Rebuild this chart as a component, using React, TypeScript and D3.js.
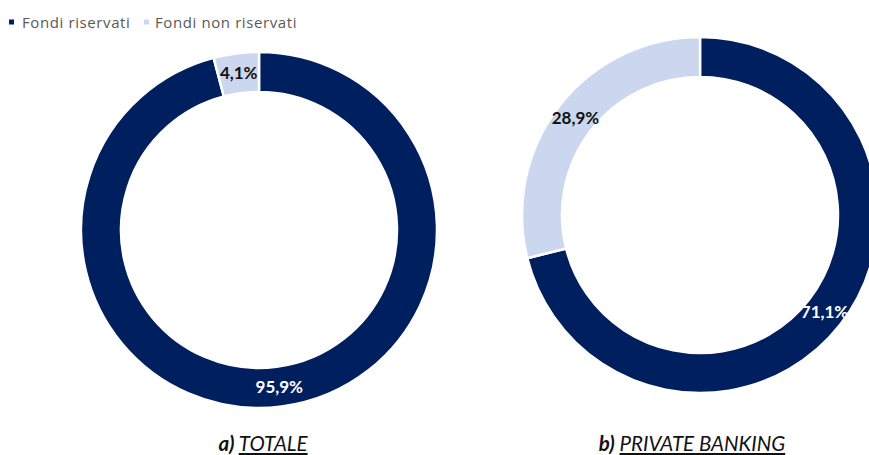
import React from "react";
import * as d3 from "d3";

const categories = ["Fondi riservati", "Fondi non riservati"];
const totaleValues = [95.9, 4.1];
const privateValues = [71.1, 28.9];
const valueLabels = [["95,9%", "4,1%"], ["71,1%", "28,9%"]];
const chartTitles = [["a)", "TOTALE"], ["b)", "PRIVATE BANKING"]];

const colors = ["#001F5F", "#CAD7EE"];
const labelColors = ["#FFFFFF", "#111111"];
const W = 869, H = 455;

const FONT = "Lato, 'Open Sans', sans-serif";

function Donut({ values, labels, cx, cy, clipId }: { values: number[]; labels: string[]; cx: number; cy: number; clipId?: string }) {
  const pie = d3.pie<number>().sort(null).value((d) => d);
  const arcs = pie(values);
  const arc = d3.arc<d3.PieArcDatum<number>>().innerRadius(138).outerRadius(178);
  return (
    <g transform={`translate(${cx},${cy})`} clipPath={clipId ? `url(#${clipId})` : undefined}>
      {arcs.map((a, i) => (
        <path key={i} d={arc(a) || ""} fill={colors[i]} stroke="#fff" strokeWidth={2.5} strokeLinejoin="miter" />
      ))}
      {arcs.map((a, i) => {
        const [x, y] = arc.centroid(a);
        return (
          <text key={"t" + i} x={x} y={y} dy="0.35em" textAnchor="middle" fontFamily={FONT} fontWeight={700} fontSize={17} fill={labelColors[i]}>
            {labels[i]}
          </text>
        );
      })}
    </g>
  );
}

export default function App() {
  return (
    <svg width={W} height={H} style={{ position: "absolute", left: 0, top: 0, background: "#fff" }}>
      <defs>
        <clipPath id="clipLeft">
          <rect x={-300} y={-300} width={300 + 436 - 259} height={600} />
        </clipPath>
      </defs>
      {/* legend */}
      <g fontFamily="'Open Sans', sans-serif" fontSize={15} letterSpacing={0.6} fill="#595959">
        <rect x={9} y={19.5} width={5} height={5} fill={colors[0]} />
        <text x={22} y={28}>{categories[0]}</text>
        <rect x={144} y={19.5} width={5} height={5} fill={colors[1]} />
        <text x={155} y={28}>{categories[1]}</text>
      </g>
      <Donut values={totaleValues} labels={valueLabels[0]} cx={259} cy={230} clipId="clipLeft" />
      <Donut values={privateValues} labels={valueLabels[1]} cx={700} cy={215} />
      {/* titles */}
      {[263, 692].map((x, i) => (
        <text key={i} x={x} y={451} textAnchor="middle" fontFamily={FONT} fontStyle="italic" fontSize={20.5} fill="#111">
          <tspan fontWeight={700}>{chartTitles[i][0]}</tspan>
          <tspan> </tspan>
          <tspan textDecoration="underline">{chartTitles[i][1]}</tspan>
        </text>
      ))}
    </svg>
  );
}
